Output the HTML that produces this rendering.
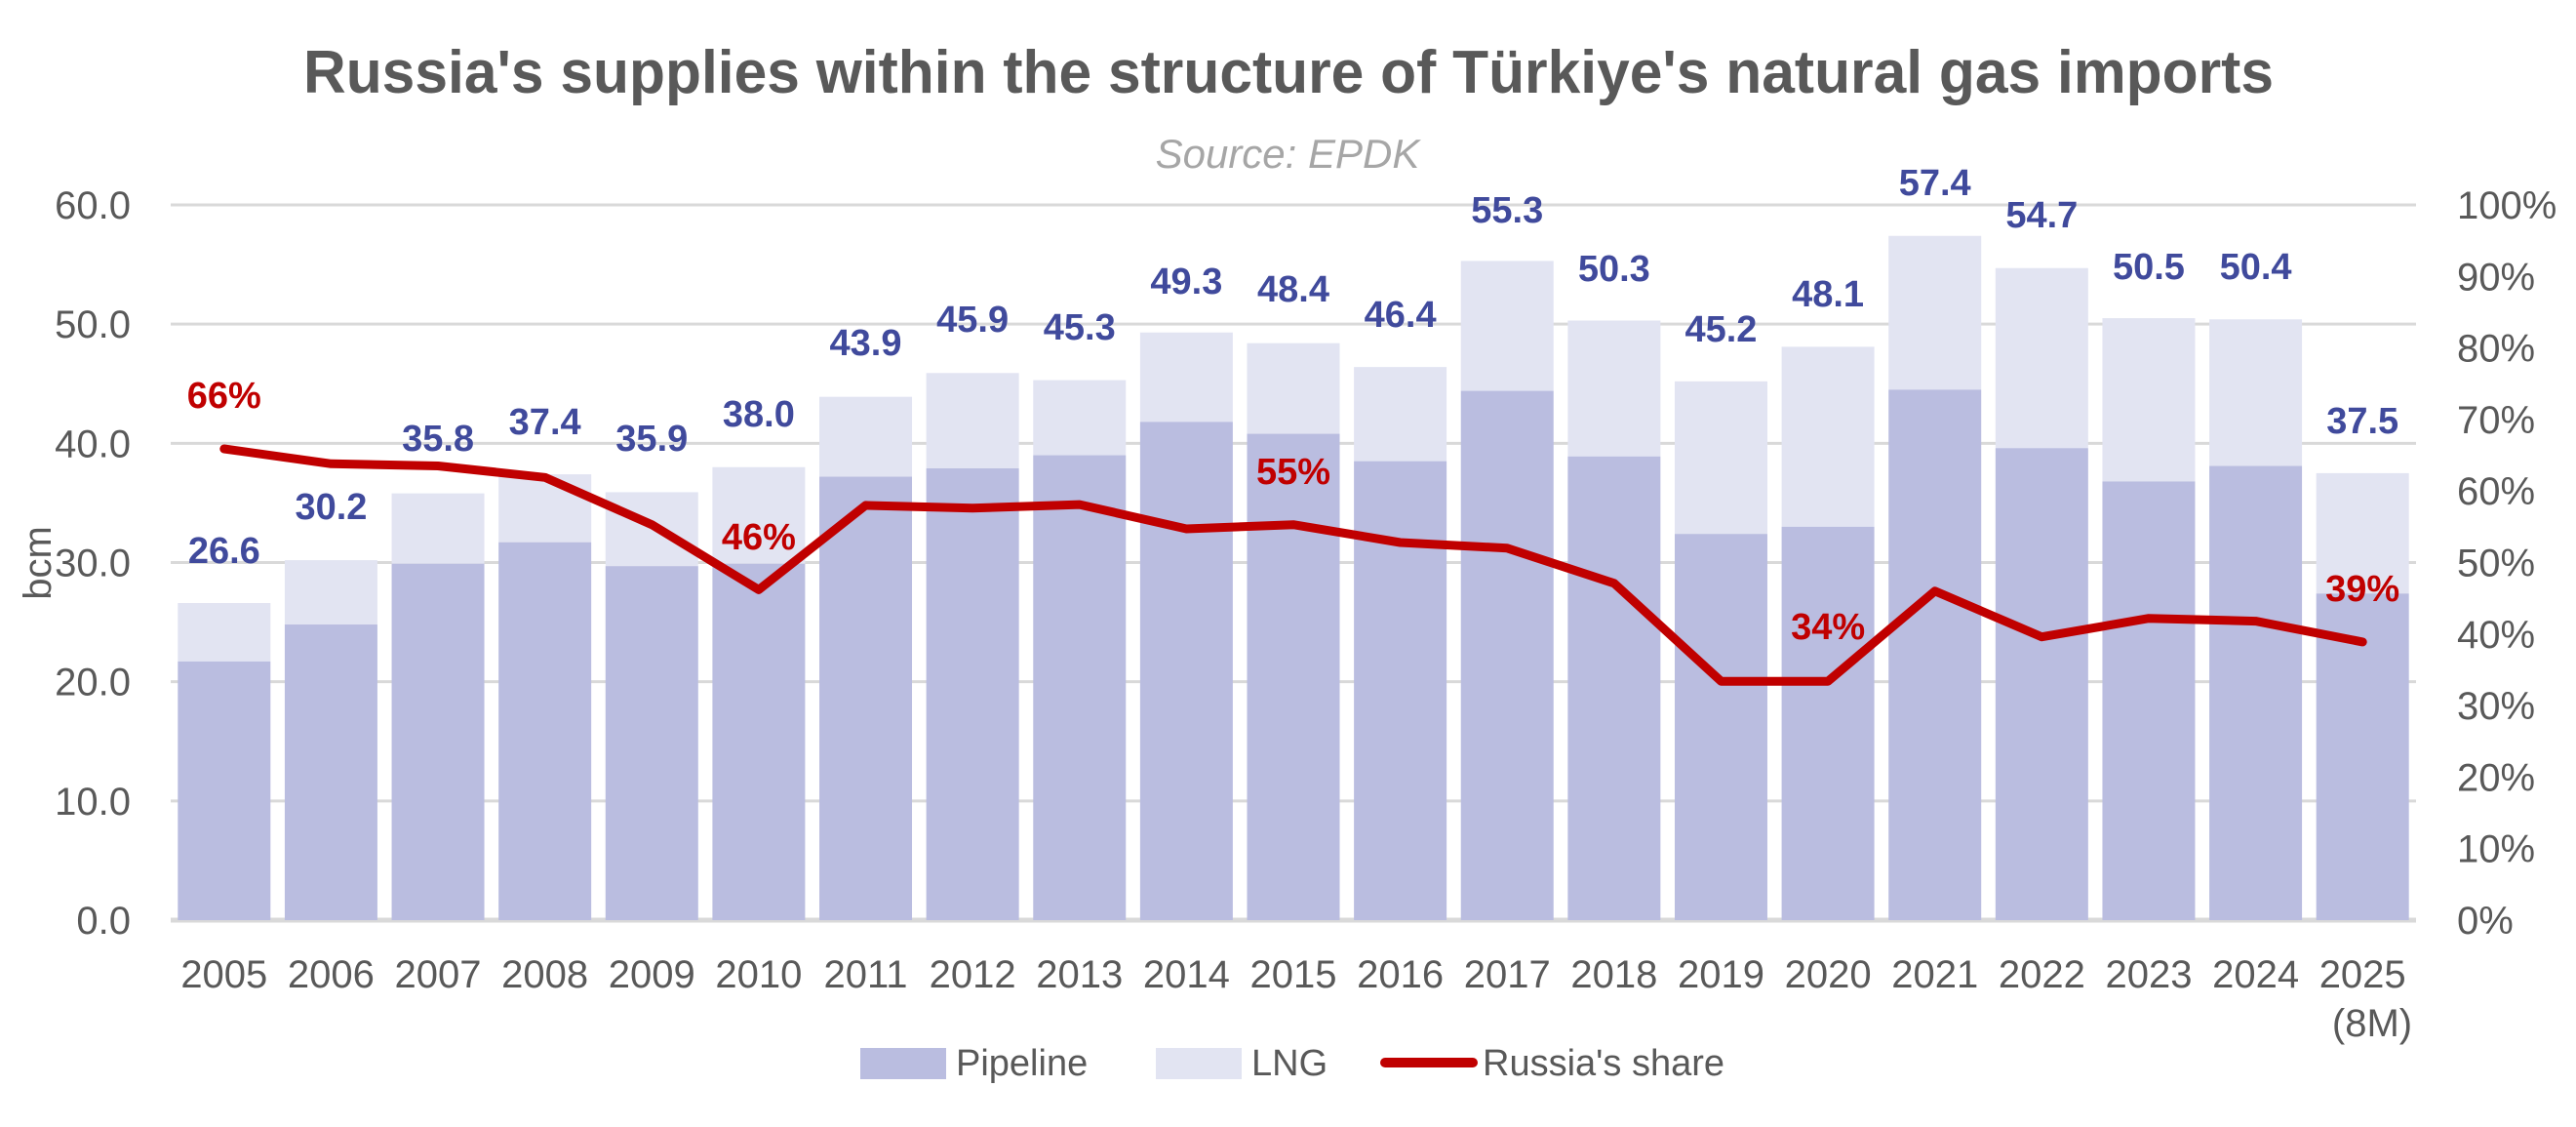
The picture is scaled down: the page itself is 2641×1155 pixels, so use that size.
<!DOCTYPE html>
<html><head><meta charset="utf-8"><style>
html,body{margin:0;padding:0;background:#fff;}
svg{display:block;font-family:"Liberation Sans",sans-serif;}
</style></head><body>
<svg width="2641" height="1155" viewBox="0 0 2641 1155" xmlns="http://www.w3.org/2000/svg">
<rect width="2641" height="1155" fill="#fff"/>
<text x="1321" y="95" text-anchor="middle" font-size="62" font-weight="bold" fill="#595959" textLength="2020" lengthAdjust="spacingAndGlyphs">Russia's supplies within the structure of Türkiye's natural gas imports</text>
<text x="1320" y="172" text-anchor="middle" font-size="42" font-style="italic" fill="#a6a6a6">Source: EPDK</text>
<g id="grid" stroke="#d9d9d9" stroke-width="3"></g>
<g id="bars"></g>
<g id="axes" font-size="40" fill="#595959"></g>
<polyline id="line" fill="none" stroke="#c00000" stroke-width="9" stroke-linejoin="round" stroke-linecap="round"/>
<g id="labels" font-weight="bold" font-size="38" text-anchor="middle"></g>
<text transform="translate(52,577) rotate(-90)" text-anchor="middle" font-size="40" fill="#595959">bcm</text>
<rect x="882" y="1074" width="88" height="32" fill="#babde0"/>
<text x="980" y="1102" font-size="38" fill="#595959">Pipeline</text>
<rect x="1185" y="1074" width="88" height="32" fill="#e2e4f2"/>
<text x="1283" y="1102" font-size="38" fill="#595959">LNG</text>
<line x1="1420" y1="1089" x2="1510" y2="1089" stroke="#c00000" stroke-width="10" stroke-linecap="round"/>
<text x="1520" y="1102" font-size="38" fill="#595959">Russia's share</text>
<text x="2432" y="1062" text-anchor="middle" font-size="40" fill="#595959">(8M)</text>
<script>
var NS="http://www.w3.org/2000/svg";
function el(t,a,p,txt){var e=document.createElementNS(NS,t);for(var k in a)e.setAttribute(k,a[k]);if(txt!=null)e.textContent=txt;document.getElementById(p).appendChild(e);return e;}
var x0=175,x1=2477,y0=943,y60=210,cw=(x1-x0)/21,ppb=(y0-y60)/60,ppp=(y0-y60)/100;
for(var i=0;i<=6;i++){var y=y0-i*10*ppb;
 el('line',{x1:x0,x2:x1,y1:y,y2:y,'stroke-width':i==0?5:3},'grid');
 el('text',{x:134,y:y+14,'text-anchor':'end'},'axes',(i*10).toFixed(1));}
for(var i=0;i<=10;i++){var y=y0-i*10*ppp;el('text',{x:2519,y:y+14},'axes',(i*10)+'%');}
var tot=[26.6,30.2,35.8,37.4,35.9,38.0,43.9,45.9,45.3,49.3,48.4,46.4,55.3,50.3,45.2,48.1,57.4,54.7,50.5,50.4,37.5];
var pip=[21.7,24.8,29.9,31.7,29.7,29.9,37.2,37.9,39.0,41.8,40.8,38.5,44.4,38.9,32.4,33.0,44.5,39.6,36.8,38.1,27.4];
var sh=[65.9,63.8,63.5,61.9,55.3,46.2,58.0,57.6,58.1,54.7,55.3,52.8,52.0,47.1,33.4,33.4,46.0,39.6,42.2,41.8,38.9];
var ly=[563,518,448,431,448,423,350,326,334,287,295,321,214,274,336,300,186,219,272,272,430];
var pts=[];
for(var i=0;i<21;i++){var cx=x0+(i+0.5)*cw,bx=cx-47.5;
 var yt=y0-tot[i]*ppb,yp=y0-pip[i]*ppb;
 el('rect',{x:bx,y:yt,width:95,height:yp-yt,fill:'#e2e4f2'},'bars');
 el('rect',{x:bx,y:yp,width:95,height:y0-yp,fill:'#babde0'},'bars');
 if(i<20)el('text',{x:cx,y:1012,'text-anchor':'middle'},'axes',2005+i);
 else el('text',{x:cx,y:1012,'text-anchor':'middle'},'axes','2025');
 el('text',{x:cx,y:ly[i]+14,fill:'#404a9c'},'labels',tot[i].toFixed(1));
 pts.push(cx.toFixed(1)+','+(y0-sh[i]*ppp).toFixed(1));}
document.getElementById('line').setAttribute('points',pts.join(' '));
var pl=[[0,404,'66%'],[5,549,'46%'],[10,482,'55%'],[15,641,'34%'],[20,602,'39%']];
pl.forEach(function(p){el('text',{x:x0+(p[0]+0.5)*cw,y:p[1]+14,fill:'#c00000'},'labels',p[2]);});
</script>
</svg>
</body></html>
